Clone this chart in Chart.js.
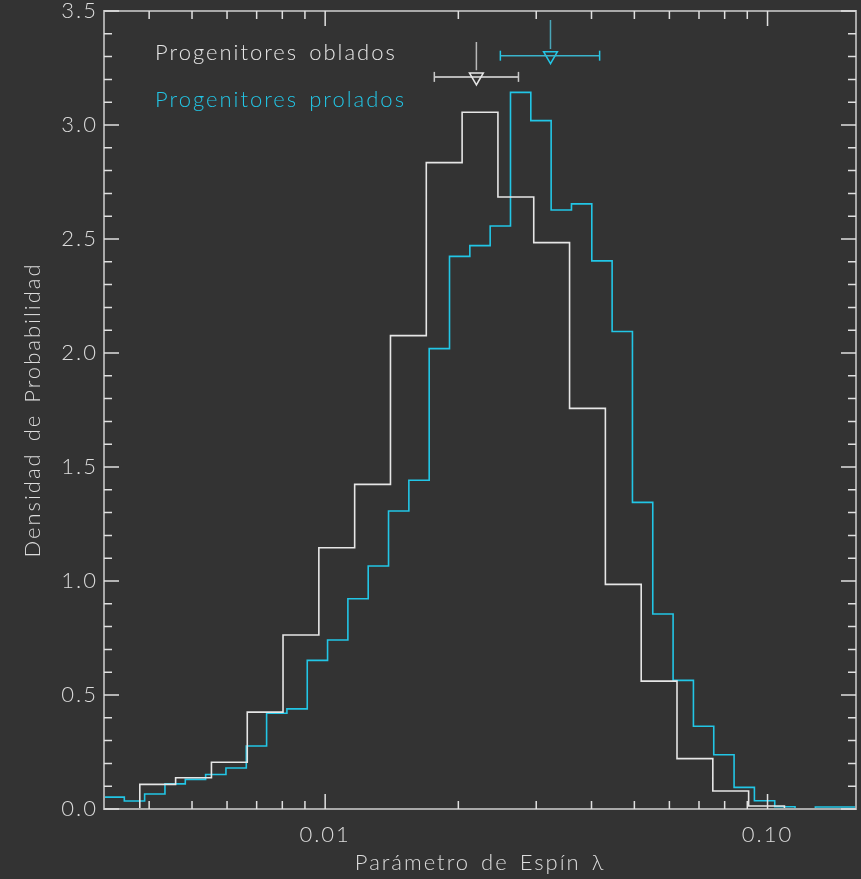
<!DOCTYPE html>
<html>
<head>
<meta charset="utf-8">
<script src="https://cdn.jsdelivr.net/npm/chart.js@4.4.1/dist/chart.umd.min.js"></script>
<style>
  html, body { margin: 0; padding: 0; background: #333333; overflow: hidden; }
  #wrap { width: 861px; height: 879px; }
  canvas { display: block; }
</style>
</head>
<body>
<div id="wrap"><canvas id="c" width="861" height="879"></canvas></div>
<script>
// ---------- data ----------
// histogram bin edges (lambda) and densities: oblate progenitors (white)
const obladosEdges = [0.003162, 0.003810, 0.004591, 0.005532, 0.006666, 0.008030, 0.009676,
  0.011659, 0.014048, 0.016927, 0.020397, 0.024577, 0.029614, 0.035683, 0.042996,
  0.051810, 0.062426, 0.075218, 0.090632, 0.10920, 0.13158, 0.15849];
const obladosValues = [0.0, 0.108, 0.137, 0.205, 0.425, 0.763, 1.146, 1.424, 2.076, 2.835,
  3.056, 2.684, 2.484, 1.757, 0.985, 0.561, 0.221, 0.079, 0.013, 0.0, 0.0];

// prolate progenitors (cyan)
const proladosEdges = [0.003162, 0.003515, 0.003907, 0.004343, 0.004828, 0.005367, 0.005966,
  0.006632, 0.007372, 0.008194, 0.009109, 0.010125, 0.011255, 0.012511, 0.013907,
  0.015459, 0.017185, 0.019102, 0.021234, 0.023604, 0.026238, 0.029166, 0.032421,
  0.036040, 0.040062, 0.044533, 0.049503, 0.055027, 0.061168, 0.067995, 0.075583,
  0.084018, 0.093394, 0.10382, 0.11540, 0.12828, 0.14260, 0.15849];
const proladosValues = [0.052, 0.035, 0.066, 0.110, 0.130, 0.151, 0.180, 0.276, 0.420, 0.439,
  0.652, 0.741, 0.922, 1.066, 1.307, 1.442, 2.019, 2.424, 2.471, 2.557, 3.143, 3.019,
  2.627, 2.654, 2.404, 2.094, 1.345, 0.855, 0.564, 0.363, 0.238, 0.095, 0.036, 0.010,
  0.0, 0.009, 0.009];

// mean markers with spread (lambda) and their heights
const obladosMean = 0.02197, obladosLow = 0.01765, obladosHigh = 0.02735;
const obladosMarkY = 3.211, obladosStemTop = 3.364, obladosStemBottom = 3.240;
const proladosMean = 0.03231, proladosLow = 0.02489, proladosHigh = 0.04173;
const proladosMarkY = 3.304, proladosStemTop = 3.461, proladosStemBottom = 3.333;

// axes
const xMin = 0.0031623, xMax = 0.15849;
const xMajorTicks = [0.01, 0.1];
const xTickLabels = ['0.01', '0.10'];
const xMinorTicks = [0.004, 0.005, 0.006, 0.007, 0.008, 0.009, 0.02, 0.03, 0.04, 0.05, 0.06, 0.07, 0.08, 0.09];
const yMajorTicks = [0, 0.5, 1.0, 1.5, 2.0, 2.5, 3.0, 3.5];
const yMinorTicks = [0.1, 0.2, 0.3, 0.4, 0.6, 0.7, 0.8, 0.9, 1.1, 1.2, 1.3, 1.4, 1.6, 1.7, 1.8, 1.9,
  2.1, 2.2, 2.3, 2.4, 2.6, 2.7, 2.8, 2.9, 3.1, 3.2, 3.3, 3.4];
const legendLabels = ['Progenitores oblados', 'Progenitores prolados'];
const xTitle = 'Parámetro de Espín λ';
const yTitle = 'Densidad de Probabilidad';

// ---------- styling ----------
const WHITE = '#e6e6e6';
const CYAN = '#22c6e6';
const AXIS = '#a9a9a9';
const TEXT = '#dcdcdc';
const FONT = 'Lato, "DejaVu Sans", sans-serif';

function histPoints(edges, values) {
  const pts = values.map((v, i) => ({ x: edges[i], y: v }));
  pts.push({ x: edges[edges.length - 1], y: values[values.length - 1] });
  return pts;
}

const spacingPlugin = {
  id: 'spacingPlugin',
  beforeDraw(chart) {
    chart.ctx.letterSpacing = '2px';
    chart.ctx.wordSpacing = '3px';
  }
};

const axisPlugin = {
  id: 'axisPlugin',
  afterDatasetsDraw(chart) {
    const { ctx, chartArea: a, scales } = chart;
    const xs = scales.x, ys = scales.y;
    ctx.save();
    ctx.strokeStyle = AXIS;
    ctx.lineWidth = 2;
    ctx.strokeRect(a.left, a.top, a.right - a.left, a.bottom - a.top);
    ctx.strokeStyle = '#e0e0e0';
    ctx.lineWidth = 1.5;
    ctx.beginPath();
    const tick = (x1, y1, x2, y2) => { ctx.moveTo(x1, y1); ctx.lineTo(x2, y2); };
    xMajorTicks.forEach(v => { const p = xs.getPixelForValue(v); tick(p, a.bottom, p, a.bottom - 15); tick(p, a.top, p, a.top + 15); });
    xMinorTicks.forEach(v => { const p = xs.getPixelForValue(v); tick(p, a.bottom, p, a.bottom - 8); tick(p, a.top, p, a.top + 8); });
    yMajorTicks.forEach(v => { const p = ys.getPixelForValue(v); tick(a.left, p, a.left + 15, p); tick(a.right, p, a.right - 15, p); });
    yMinorTicks.forEach(v => { const p = ys.getPixelForValue(v); tick(a.left, p, a.left + 8, p); tick(a.right, p, a.right - 8, p); });
    ctx.stroke();
    // legend text
    ctx.font = '300 22px ' + FONT;
    ctx.textAlign = 'left';
    ctx.textBaseline = 'middle';
    ctx.fillStyle = WHITE;
    ctx.fillText(legendLabels[0], 155, 53);
    ctx.fillStyle = CYAN;
    ctx.fillText(legendLabels[1], 155, 100);
    ctx.restore();
  }
};

new Chart(document.getElementById('c'), {
  type: 'line',
  data: {
    datasets: [
      { label: legendLabels[0], data: histPoints(obladosEdges, obladosValues), stepped: 'before',
        borderColor: WHITE, borderWidth: 1.6, pointRadius: 0, fill: false },
      { label: legendLabels[1], data: histPoints(proladosEdges, proladosValues), stepped: 'before',
        borderColor: CYAN, borderWidth: 1.6, pointRadius: 0, fill: false },
      // oblate marker
      { data: [{ x: obladosLow, y: obladosMarkY }, { x: obladosHigh, y: obladosMarkY }],
        borderColor: WHITE, borderWidth: 1.5, pointStyle: 'line', rotation: 90, pointRadius: 5,
        pointBorderColor: '#c8c8c8', pointBorderWidth: 1.5 },
      { data: [{ x: obladosMean, y: obladosStemTop }, { x: obladosMean, y: obladosStemBottom }],
        borderColor: '#b8b8b8', borderWidth: 1.5, pointRadius: 0 },
      { data: [{ x: obladosMean, y: obladosMarkY }], showLine: false, pointStyle: 'triangle', rotation: 180,
        pointRadius: 8, pointBorderColor: WHITE, pointBackgroundColor: 'rgba(0,0,0,0)', pointBorderWidth: 1.5 },
      // prolate marker
      { data: [{ x: proladosLow, y: proladosMarkY }, { x: proladosHigh, y: proladosMarkY }],
        borderColor: '#3ab4cc', borderWidth: 1.5, pointStyle: 'line', rotation: 90, pointRadius: 5,
        pointBorderColor: CYAN, pointBorderWidth: 1.5 },
      { data: [{ x: proladosMean, y: proladosStemTop }, { x: proladosMean, y: proladosStemBottom }],
        borderColor: '#4aa6b8', borderWidth: 1.5, pointRadius: 0 },
      { data: [{ x: proladosMean, y: proladosMarkY }], showLine: false, pointStyle: 'triangle', rotation: 180,
        pointRadius: 8, pointBorderColor: CYAN, pointBackgroundColor: 'rgba(0,0,0,0)', pointBorderWidth: 1.5 }
    ]
  },
  options: {
    responsive: false,
    animation: false,
    devicePixelRatio: 1,
    layout: { autoPadding: false, padding: { top: 11, right: 5, left: 0, bottom: 0 } },
    plugins: { legend: { display: false }, tooltip: { enabled: false } },
    elements: { line: { tension: 0 } },
    scales: {
      x: {
        type: 'logarithmic', min: xMin, max: xMax, position: 'bottom',
        grid: { display: false, drawTicks: false }, border: { display: false },
        afterBuildTicks: s => { s.ticks = xMajorTicks.map(v => ({ value: v, major: true })); },
        afterFit: s => { s.height = 70; s.paddingLeft = 0; s.paddingRight = 0; },
        ticks: {
          autoSkip: false, maxRotation: 0, padding: 13, color: TEXT,
          font: { family: FONT, size: 22, weight: 300 },
          callback: (v) => { const i = xMajorTicks.indexOf(v); return i >= 0 ? xTickLabels[i] : ''; }
        },
        title: { display: true, text: xTitle, color: TEXT, font: { family: FONT, size: 22, weight: 300 }, padding: { top: 0, bottom: 3 } }
      },
      y: {
        min: 0, max: 3.5,
        grid: { display: false, drawTicks: false }, border: { display: false },
        afterBuildTicks: s => { s.ticks = yMajorTicks.map(v => ({ value: v })); },
        afterFit: s => { s.width = 104; s.paddingTop = 0; s.paddingBottom = 0; },
        ticks: {
          padding: 6, color: TEXT, font: { family: FONT, size: 22, weight: 300 },
          callback: v => Number(v).toFixed(1)
        },
        title: { display: true, text: yTitle, color: TEXT, font: { family: FONT, size: 22, weight: 300 }, padding: { top: 20, bottom: 0 } }
      }
    }
  },
  plugins: [spacingPlugin, axisPlugin]
});
</script>
</body>
</html>
